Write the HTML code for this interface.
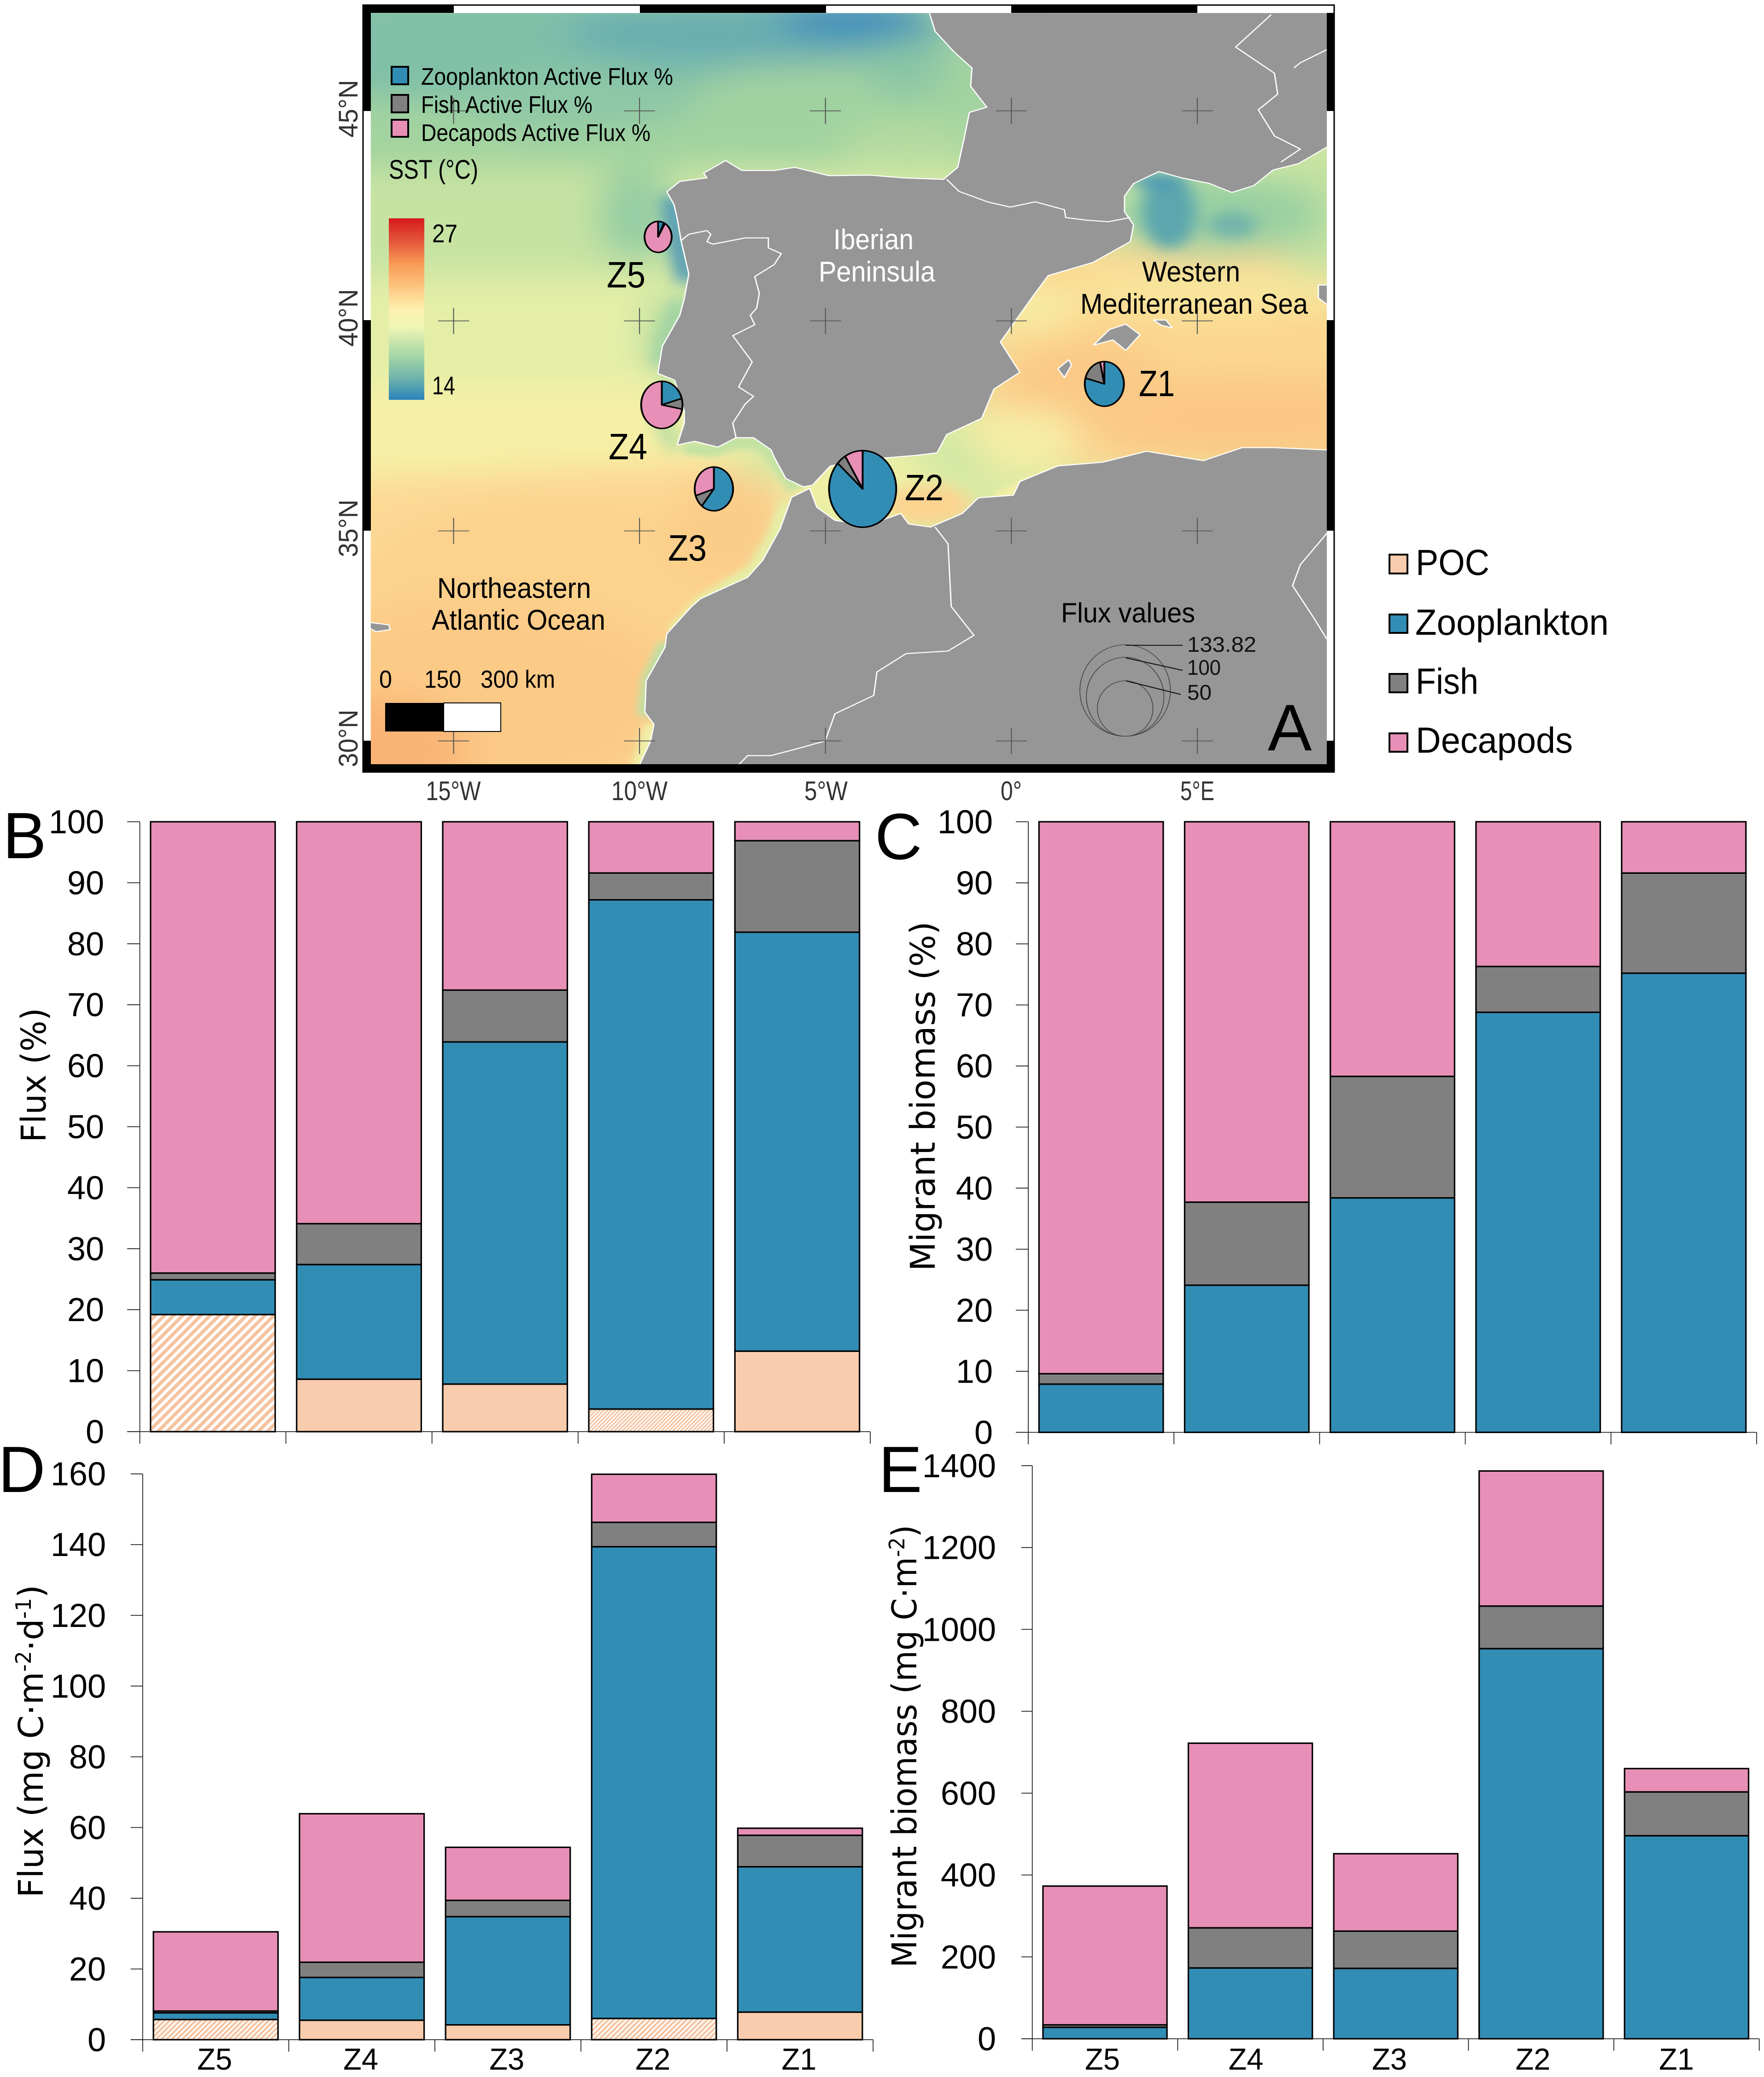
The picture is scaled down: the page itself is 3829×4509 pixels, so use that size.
<!DOCTYPE html>
<html lang="en">
<head>
<meta charset="utf-8">
<title>Active flux and migrant biomass, Iberian Peninsula</title>
<style>
html,body{margin:0;padding:0;background:#fff;}
svg{display:block;font-family:"Liberation Sans",sans-serif;}
.ylab{font-family:"DejaVu Sans",sans-serif;fill:#000;}
</style>
</head>
<body>
<svg id="figure" xmlns="http://www.w3.org/2000/svg" width="3829" height="4509" viewBox="0 0 3829 4509">
<defs>
<clipPath id="mapClip"><rect x="32" y="25" width="1479" height="1437"/></clipPath>
<filter id="b30" x="-30%" y="-30%" width="160%" height="160%"><feGaussianBlur stdDeviation="30"/></filter>
<filter id="b14" x="-30%" y="-30%" width="160%" height="160%"><feGaussianBlur stdDeviation="13"/></filter>
<filter id="b6" x="-30%" y="-30%" width="160%" height="160%"><feGaussianBlur stdDeviation="6"/></filter>
<linearGradient id="sstGrad" x1="0" y1="0" x2="0" y2="1">
<stop offset="0" stop-color="#d7191c"/><stop offset=".12" stop-color="#e2533a"/><stop offset=".25" stop-color="#f99a55"/><stop offset=".38" stop-color="#fdc680"/><stop offset=".5" stop-color="#fdf0b0"/><stop offset=".6" stop-color="#eef5b5"/><stop offset=".75" stop-color="#a9d9a6"/><stop offset=".88" stop-color="#6fb3ab"/><stop offset="1" stop-color="#2b83ba"/>
</linearGradient>
<pattern id="hatchWide" width="14" height="14" patternUnits="userSpaceOnUse" patternTransform="rotate(-45)"><rect width="14" height="14" fill="#fff"/><rect width="14" height="7.5" fill="#f6c3a0"/></pattern>
<pattern id="hatchFine" width="6" height="6" patternUnits="userSpaceOnUse" patternTransform="rotate(-45)"><rect width="6" height="6" fill="#fff"/><rect width="6" height="3.2" fill="#f6c3a0"/></pattern>
<pattern id="hatchMid" width="8" height="8" patternUnits="userSpaceOnUse" patternTransform="rotate(-45)"><rect width="8" height="8" fill="#fff"/><rect width="8" height="4.4" fill="#f6c3a0"/></pattern>
</defs>

<g id="map-panel">
<g id="mapScaled" transform="translate(760 0) scale(1.40306 1.13520)">
<g clip-path="url(#mapClip)">
<g>
<rect x="0" y="0" width="1568" height="1568" fill="#d8eaa5"/>
<g filter="url(#b30)">
<rect x="-100" y="-50" width="1150" height="370" fill="#a2d3a0"/>
<rect x="-100" y="320" width="640" height="220" fill="#c6e3a2"/>
<rect x="-100" y="530" width="620" height="230" fill="#e4eea7"/>
<rect x="-100" y="740" width="700" height="190" fill="#f6f0a6"/>
<polygon points="-100,920 560,880 700,960 640,1100 500,1250 460,1600 -100,1600" fill="#fcd994"/>
<ellipse cx="330" cy="1120" rx="320" ry="170" fill="#fcd28d"/>
<ellipse cx="190" cy="1340" rx="340" ry="190" fill="#fcca87"/>
<ellipse cx="50" cy="1430" rx="130" ry="100" fill="#f9b474"/>
<ellipse cx="590" cy="1000" rx="90" ry="100" fill="#fccc89"/>
<ellipse cx="220" cy="90" rx="420" ry="105" fill="#80bfa8"/>
<ellipse cx="630" cy="60" rx="300" ry="65" fill="#6aaeb0"/>
<ellipse cx="780" cy="35" rx="120" ry="42" fill="#3f8fbb"/>
<ellipse cx="350" cy="195" rx="190" ry="55" fill="#8ec8a6"/>
<ellipse cx="700" cy="190" rx="150" ry="55" fill="#a0d2a1"/>
<ellipse cx="860" cy="130" rx="60" ry="55" fill="#88c5a5"/>
<ellipse cx="860" cy="280" rx="100" ry="50" fill="#b6dba0"/>
<ellipse cx="440" cy="410" rx="55" ry="90" fill="#93cca3"/>
<ellipse cx="490" cy="640" rx="30" ry="80" fill="#aad8a0"/>
<polygon points="1000,480 1530,470 1600,900 950,900 990,650" fill="#fcd68f"/>
<ellipse cx="1380" cy="800" rx="260" ry="80" fill="#fbc785"/>
<ellipse cx="1140" cy="750" rx="130" ry="100" fill="#fbc987"/>
<ellipse cx="1330" cy="560" rx="220" ry="45" fill="#f8e69c"/>
<ellipse cx="1060" cy="590" rx="60" ry="50" fill="#f7eba2"/>
<ellipse cx="1040" cy="840" rx="90" ry="60" fill="#f6eea6"/>
<ellipse cx="920" cy="880" rx="70" ry="40" fill="#d0e7a4"/>
<ellipse cx="790" cy="930" rx="120" ry="70" fill="#f0f0a6"/>
<ellipse cx="1500" cy="400" rx="90" ry="130" fill="#c4e2a1"/>
<ellipse cx="1340" cy="410" rx="170" ry="80" fill="#9ad0a2"/>
</g>
<g filter="url(#b14)">
<ellipse cx="895" cy="965" rx="65" ry="38" fill="#fcd490"/>
<ellipse cx="1267" cy="405" rx="42" ry="70" fill="#5ca6ae"/>
<ellipse cx="1365" cy="430" rx="38" ry="25" fill="#72b4aa"/>
<ellipse cx="1250" cy="345" rx="45" ry="14" fill="#4a98b4"/>
<polyline points="497,375 505,450 522,540" fill="none" stroke="#4a94b8" stroke-width="30"/>
<polyline points="500,720 480,800 505,860" fill="none" stroke="#b9dea2" stroke-width="28"/>
<polyline points="512,572 490,650 478,700" fill="none" stroke="#98d0a3" stroke-width="26"/>
</g>
<g filter="url(#b6)">
<polyline points="515,855 560,862 600,845 640,848 660,880 690,935" fill="none" stroke="#c3e2a2" stroke-width="26"/>
<polyline points="676,960 655,1030 625,1090 545,1150 500,1210" fill="none" stroke="#e6eea6" stroke-width="24"/>
<polyline points="490,1230 462,1302 456,1370" fill="none" stroke="#bfdfa2" stroke-width="24"/>
<polyline points="470,1385 450,1470" fill="none" stroke="#f0f0a8" stroke-width="30"/>
<polyline points="1000,955 1040,930 1100,900" fill="none" stroke="#f5eea6" stroke-width="22"/>
</g>
</g>
<g fill="#969696" stroke="#fff" stroke-width="2" stroke-linejoin="round">
<path d="M895,20 L905,60 L935,100 L962,130 L960,165 L985,205 L958,215 L950,264 L940,320 L918,343 L854,340 L805,335 L741,336 L688,320 L656,326 L606,326 L581,307 L547,331 L552,340 L510,347 L490,367 L501,391 L506,418 L512,460 L524,524 L517,571 L510,603 L483,662 L476,714 L502,727 L517,786 L517,809 L506,851 L533,844 L569,855 L597,837 L624,837 L651,860 L656,874 L674,915 L701,931 L715,928 L743,891 L790,880 L825,876 L874,871 L908,866 L923,831 L977,800 L996,744 L1036,712 L1006,654 L1056,567 L1080,527 L1149,502 L1207,462 L1212,430 L1198,405 L1198,375 L1212,351 L1251,328 L1286,340 L1330,351 L1364,368 L1398,355 L1428,325 L1467,313 L1520,275 L1520,20 Z"/>
<path d="M683,951 L665,1012 L638,1072 L615,1104 L542,1145 L529,1159 L490,1212 L487,1238 L458,1302 L456,1362 L470,1385 L465,1417 L445,1470 L1520,1470 L1520,861 L1429,856 L1380,856 L1320,881 L1232,863 L1164,884 L1095,891 L1036,921 L1026,947 L972,952 L947,982 L898,1008 L864,1002 L852,982 L800,1005 L750,995 L722,970 L711,934 Z"/>
<path d="M1150,660 L1175,630 L1200,620 L1222,640 L1200,670 L1180,650 Z"/>
<path d="M1243,612 L1262,612 L1272,627 L1255,622 Z"/>
<path d="M1095,705 L1112,688 L1116,698 L1105,722 Z"/>
<path d="M1498,545 L1520,545 L1520,590 L1498,570 Z"/>
<path d="M28,1190 L60,1195 L62,1204 L40,1208 L28,1200 Z"/>
</g>
<g fill="none" stroke="#fff" stroke-width="2">
<polyline points="923,343 942,366 986,386 1021,396 1060,386 1105,401 1107,416 1139,421 1173,424 1207,416"/>
<polyline points="512,460 524,448 552,441 558,448 552,462 561,467 611,455 647,455 647,474 667,485 656,506 626,529 633,561 629,589 619,603 626,621 592,642 622,692 601,740 624,758 611,773 592,809 597,837"/>
<polyline points="1425,28 1370,90 1430,140 1435,180 1405,210 1430,260 1470,285 1440,310"/>
<polyline points="1511,95 1470,120 1460,130"/>
<polyline points="905,1008 925,1040 930,1160 965,1215 925,1245 860,1250 815,1285 810,1330 750,1365 735,1417 688,1433 651,1445 615,1445 599,1465"/>
<polyline points="1511,1020 1470,1080 1458,1120 1490,1180 1511,1222"/>
</g>
<g id="graticule" stroke="#555" stroke-width="1.5"></g>
</g>
<g id="pies"></g>
<g fill="none" stroke="#444" stroke-width="1.2">
<ellipse cx="1199" cy="1320.5" rx="70" ry="87.5"/>
<ellipse cx="1199" cy="1332.5" rx="60" ry="75.5"/>
<ellipse cx="1199" cy="1355" rx="43" ry="53"/>
<path d="M1200,1234 H1288 M1200,1258 L1288,1282 M1200,1302 L1285,1328" stroke="#111" stroke-width="1.8"/>
</g>
</g>

<g>
<rect x="788" y="11" width="2108" height="1665" fill="none" stroke="#000" stroke-width="3"/>
<rect x="788" y="11" width="197" height="17"/><rect x="1389" y="11" width="404" height="17"/><rect x="2195" y="11" width="404" height="17"/>
<rect x="788" y="1659" width="2108" height="17"/>
<rect x="788" y="28" width="17" height="213"/><rect x="788" y="695" width="17" height="457"/><rect x="788" y="1608" width="17" height="68"/>
<rect x="2880" y="28" width="16" height="213"/><rect x="2880" y="695" width="16" height="457"/><rect x="2880" y="1608" width="16" height="68"/>
</g>

<g fill="#333" font-size="58">
<text x="984" y="1737" text-anchor="middle" textLength="119" lengthAdjust="spacingAndGlyphs">15°W</text>
<text x="1388" y="1737" text-anchor="middle" textLength="122" lengthAdjust="spacingAndGlyphs">10°W</text>
<text x="1793" y="1737" text-anchor="middle" textLength="94" lengthAdjust="spacingAndGlyphs">5°W</text>
<text x="2195" y="1737" text-anchor="middle" textLength="46" lengthAdjust="spacingAndGlyphs">0°</text>
<text x="2599" y="1737" text-anchor="middle" textLength="74" lengthAdjust="spacingAndGlyphs">5°E</text>
<text transform="translate(776 236) rotate(-90)" text-anchor="middle" textLength="125" lengthAdjust="spacingAndGlyphs">45°N</text>
<text transform="translate(776 690) rotate(-90)" text-anchor="middle" textLength="125" lengthAdjust="spacingAndGlyphs">40°N</text>
<text transform="translate(776 1147) rotate(-90)" text-anchor="middle" textLength="125" lengthAdjust="spacingAndGlyphs">35°N</text>
<text transform="translate(776 1603) rotate(-90)" text-anchor="middle" textLength="125" lengthAdjust="spacingAndGlyphs">30°N</text>
</g>

<g font-size="52">
<rect x="850" y="145" width="36" height="38" fill="#328db5" stroke="#000" stroke-width="4"/>
<rect x="850" y="206" width="36" height="38" fill="#808080" stroke="#000" stroke-width="4"/>
<rect x="850" y="260" width="36" height="37" fill="#e78fb6" stroke="#000" stroke-width="4"/>
<text x="914" y="184" textLength="547" lengthAdjust="spacingAndGlyphs">Zooplankton Active Flux %</text>
<text x="914" y="245" textLength="372" lengthAdjust="spacingAndGlyphs">Fish Active Flux %</text>
<text x="914" y="306" textLength="498" lengthAdjust="spacingAndGlyphs">Decapods Active Flux %</text>
</g>

<g>
<text x="844" y="388" font-size="58" textLength="194" lengthAdjust="spacingAndGlyphs">SST (°C)</text>
<rect x="844" y="474" width="77" height="394" fill="url(#sstGrad)"/>
<text x="938" y="526" font-size="56" textLength="55" lengthAdjust="spacingAndGlyphs">27</text>
<text x="938" y="856" font-size="56" textLength="50" lengthAdjust="spacingAndGlyphs">14</text>
</g>

<g>
<g font-size="80">
<text x="1317" y="624" textLength="84" lengthAdjust="spacingAndGlyphs">Z5</text>
<text x="1321" y="997" textLength="84" lengthAdjust="spacingAndGlyphs">Z4</text>
<text x="1450" y="1217" textLength="84" lengthAdjust="spacingAndGlyphs">Z3</text>
<text x="1964" y="1086" textLength="84" lengthAdjust="spacingAndGlyphs">Z2</text>
<text x="2472" y="860" textLength="78" lengthAdjust="spacingAndGlyphs">Z1</text>
</g>
<g font-size="62">
<text x="1809" y="541" fill="#fff" textLength="174" lengthAdjust="spacingAndGlyphs">Iberian</text>
<text x="1777" y="611" fill="#fff" textLength="253" lengthAdjust="spacingAndGlyphs">Peninsula</text>
<text x="2479" y="611" textLength="213" lengthAdjust="spacingAndGlyphs">Western</text>
<text x="2345" y="681" textLength="494" lengthAdjust="spacingAndGlyphs">Mediterranean Sea</text>
<text x="949" y="1298" textLength="334" lengthAdjust="spacingAndGlyphs">Northeastern</text>
<text x="937" y="1367" textLength="377" lengthAdjust="spacingAndGlyphs">Atlantic Ocean</text>
</g>
<g font-size="54">
<text x="823" y="1493" textLength="28" lengthAdjust="spacingAndGlyphs">0</text>
<text x="921" y="1493" textLength="80" lengthAdjust="spacingAndGlyphs">150</text>
<text x="1043" y="1493" textLength="162" lengthAdjust="spacingAndGlyphs">300 km</text>
<rect x="836" y="1526" width="127" height="62" fill="#000"/>
<rect x="963" y="1526" width="124" height="62" fill="#fff" stroke="#000" stroke-width="2"/>
</g>
<text x="2303" y="1351" font-size="60" textLength="291" lengthAdjust="spacingAndGlyphs">Flux values</text>
<g font-size="46" fill="#111">
<text x="2577" y="1415" textLength="150" lengthAdjust="spacingAndGlyphs">133.82</text>
<text x="2577" y="1465" textLength="73" lengthAdjust="spacingAndGlyphs">100</text>
<text x="2577" y="1519" textLength="53" lengthAdjust="spacingAndGlyphs">50</text>
</g>
<text x="2752" y="1629" font-size="143">A</text>
</g>
</g>

<g font-size="79">
<rect x="3016" y="1204" width="39" height="41" fill="#f8ccac" stroke="#000" stroke-width="4"/>
<rect x="3016" y="1334" width="39" height="40" fill="#328db5" stroke="#000" stroke-width="4"/>
<rect x="3016" y="1463" width="39" height="40" fill="#808080" stroke="#000" stroke-width="4"/>
<rect x="3016" y="1592" width="39" height="40" fill="#e78fb6" stroke="#000" stroke-width="4"/>
<text x="3073" y="1248" textLength="160" lengthAdjust="spacingAndGlyphs">POC</text>
<text x="3072" y="1378" textLength="420" lengthAdjust="spacingAndGlyphs">Zooplankton</text>
<text x="3073" y="1506" textLength="136" lengthAdjust="spacingAndGlyphs">Fish</text>
<text x="3073" y="1634" textLength="341" lengthAdjust="spacingAndGlyphs">Decapods</text>
</g>

<g id="charts"></g>

<g font-size="142">
<text x="6" y="1863">B</text>
<text x="1899" y="1865">C</text>
<text x="-4" y="3239">D</text>
<text x="1907" y="3239">E</text>
</g>

<g>
<text class="ylab" transform="translate(99 2334) rotate(-90)" text-anchor="middle" font-size="74" textLength="292" lengthAdjust="spacingAndGlyphs">Flux (%)</text>
<text class="ylab" transform="translate(2029 2380) rotate(-90)" text-anchor="middle" font-size="74" textLength="759" lengthAdjust="spacingAndGlyphs">Migrant biomass (%)</text>
<text class="ylab" transform="translate(93 3780) rotate(-90)" text-anchor="middle" font-size="74" textLength="679" lengthAdjust="spacingAndGlyphs">Flux (mg C·m<tspan dy="-26" font-size="46">-2</tspan><tspan dy="26">·d</tspan><tspan dy="-26" font-size="46">-1</tspan><tspan dy="26">)</tspan></text>
<text class="ylab" transform="translate(1989 3791) rotate(-90)" text-anchor="middle" font-size="74" textLength="961" lengthAdjust="spacingAndGlyphs">Migrant biomass (mg C·m<tspan dy="-26" font-size="46">-2</tspan><tspan dy="26">)</tspan></text>
</g>
</svg>

<script>
// Chart data
const zones = ['Z5', 'Z4', 'Z3', 'Z2', 'Z1'];

const fluxPctPoc = [19.2, 8.6, 7.8, 3.7, 13.2];
const fluxPctZoo = [5.7, 18.8, 56.1, 83.5, 68.7];
const fluxPctFish = [1.1, 6.7, 8.5, 4.4, 15.0];
const fluxPctDec = [74.0, 65.9, 27.6, 8.4, 3.1];
const fluxPctTicks = [0, 10, 20, 30, 40, 50, 60, 70, 80, 90, 100];

const biomassPctZoo = [7.9, 24.1, 38.4, 68.8, 75.2];
const biomassPctFish = [1.7, 13.6, 19.9, 7.5, 16.4];
const biomassPctDec = [90.4, 62.3, 41.7, 23.7, 8.4];
const biomassPctTicks = [0, 10, 20, 30, 40, 50, 60, 70, 80, 90, 100];

const fluxAbsPoc = [5.7, 5.5, 4.2, 6.0, 7.8];
const fluxAbsZoo = [1.9, 12.1, 30.6, 133.4, 41.1];
const fluxAbsFish = [0.5, 4.3, 4.6, 6.9, 8.9];
const fluxAbsDec = [22.4, 42.0, 15.0, 13.6, 2.0];
const fluxAbsTicks = [0, 20, 40, 60, 80, 100, 120, 140, 160];

const biomassAbsZoo = [28, 173, 172, 953, 496];
const biomassAbsFish = [6, 98, 91, 104, 107];
const biomassAbsDec = [339, 451, 189, 330, 57];
const biomassAbsTicks = [0, 200, 400, 600, 800, 1000, 1200, 1400];

// Pie data: zone location (degrees), total active flux, and composition %
const pieLon = [-9.5, -9.4, -8.0, -4.0, 2.5];
const pieLat = [42.0, 38.0, 36.0, 36.0, 38.5];
const pieTotal = [25, 58, 50, 153, 52];
const pieZoo = [7.0, 20.6, 60.8, 86.7, 79.2];
const pieFish = [1.4, 7.3, 9.2, 4.6, 17.3];
const pieDec = [91.6, 72.1, 30.0, 8.7, 3.5];

const gratLon = [-15, -10, -5, 0, 5];
const gratLat = [45, 40, 35, 30];

const COLORS = { poc: '#f8ccac', zoo: '#328db5', fish: '#808080', dec: '#e78fb6' };
const NS = 'http://www.w3.org/2000/svg';

function make(tag, attrs, parent) {
  const e = document.createElementNS(NS, tag);
  for (const k in attrs) e.setAttribute(k, attrs[k]);
  parent.appendChild(e);
  return e;
}

// Map axis functions (coordinates of the scaled map group)
function lonX(lon) { return 1023 + lon * 57.53; }
function latY(lat) { return 212 + (45 - lat) * 80.33; }

const grat = document.getElementById('graticule');
gratLon.forEach(function (lon) {
  gratLat.forEach(function (lat) {
    const cross = make('path', { d: 'M' + (lonX(lon) - 24) + ',' + latY(lat) + 'h48M' + lonX(lon) + ',' + (latY(lat) - 25) + 'v50', fill: 'none' }, grat);
    
    
  });
});

function wedge(cx, cy, rx, ry, a0, a1) {
  const x0 = cx + rx * Math.sin(a0), y0 = cy - ry * Math.cos(a0);
  const x1 = cx + rx * Math.sin(a1), y1 = cy - ry * Math.cos(a1);
  const large = (a1 - a0) > Math.PI ? 1 : 0;
  return 'M' + cx + ',' + cy + 'L' + x0 + ',' + y0 + 'A' + rx + ',' + ry + ' 0 ' + large + ' 1 ' + x1 + ',' + y1 + 'Z';
}

const pieLayer = document.getElementById('pies');
zones.forEach(function (zone, i) {
  const rx = 4.2 * Math.sqrt(pieTotal[i]);
  const ry = rx * 1.41;
  const cx = lonX(pieLon[i]);
  const cy = latY(pieLat[i]);
  const parts = [[pieZoo[i], COLORS.zoo], [pieFish[i], COLORS.fish], [pieDec[i], COLORS.dec]];
  const sum = pieZoo[i] + pieFish[i] + pieDec[i];
  let a = 0;
  parts.forEach(function (p) {
    const next = a + p[0] / sum * 2 * Math.PI;
    const slice = make('path', { d: wedge(cx, cy, rx, ry, a, next), fill: p[1], stroke: '#000', 'stroke-width': 2.8, 'stroke-linejoin': 'round' }, pieLayer);
    
    
    a = next;
  });
});

// Bar charts
function drawChart(cfg) {
  const root = document.getElementById('charts');
  const g = make('g', {}, root);
  
  
  const yOf = function (v) { return cfg.y0 - v * (cfg.y0 - cfg.yTop) / cfg.yMax; };
  const band = cfg.band;
  const xOf = function (i) { return cfg.x0 + (i + 0.5) * band; };
  const zoneX = function (i) { return cfg.zoneStart + i * cfg.zoneStep; };
  const barW = band * 0.853;

  make('line', { x1: cfg.x0, x2: cfg.x0, y1: cfg.yTop, y2: cfg.y0, stroke: '#222', 'stroke-width': 1.8 }, g);
  make('line', { x1: cfg.tickLeft, x2: cfg.x0 + 5 * band, y1: cfg.y0, y2: cfg.y0, stroke: '#222', 'stroke-width': 1.8 }, g);
  cfg.ticks.forEach(function (t) {
    make('line', { x1: cfg.tickLeft, x2: cfg.x0, y1: yOf(t), y2: yOf(t), stroke: '#222', 'stroke-width': 1.8 }, g);
    const lab = make('text', { x: cfg.labelRight, y: yOf(t) + 25, 'text-anchor': 'end', 'font-size': 72 }, g);
    
    
    lab.textContent = t;
  });
  for (let i = 0; i <= 5; i++) {
    make('line', { x1: cfg.x0 + i * band, x2: cfg.x0 + i * band, y1: cfg.y0, y2: cfg.y0 + 26, stroke: '#222', 'stroke-width': 1.8 }, g);
  }
  zones.forEach(function (zone, i) {
    let base = 0;
    cfg.series.forEach(function (s) {
      const v = s.values[i];
      const fill = (s.hatch && s.hatch[i]) ? 'url(#' + s.hatch[i] + ')' : s.color;
      const bar = make('rect', { x: xOf(i) - barW / 2, y: yOf(base + v), width: barW, height: yOf(base) - yOf(base + v), fill: fill, stroke: '#000', 'stroke-width': 3.2 }, g);
      
      
      base += v;
    });
    if (cfg.showZones) {
      const z = make('text', { x: zoneX(i), y: 4493, 'text-anchor': 'middle', 'font-size': 66, textLength: 76, lengthAdjust: 'spacingAndGlyphs' }, g);
      
      
      z.textContent = zone;
    }
  });
}

drawChart({
  name: 'flux-percent-chart', x0: 303.5, band: 317.1, y0: 3108, yTop: 1784, yMax: 100, tickLeft: 276, labelRight: 226,
  ticks: fluxPctTicks, showZones: false,
  series: [
    { key: 'poc', values: fluxPctPoc, color: COLORS.poc, hatch: ['hatchWide', null, null, 'hatchFine', null] },
    { key: 'zooplankton', values: fluxPctZoo, color: COLORS.zoo },
    { key: 'fish', values: fluxPctFish, color: COLORS.fish },
    { key: 'decapods', values: fluxPctDec, color: COLORS.dec }
  ]
});
drawChart({
  name: 'biomass-percent-chart', x0: 2232, band: 316.2, y0: 3109.5, yTop: 1784, yMax: 100, tickLeft: 2205, labelRight: 2155,
  ticks: biomassPctTicks, showZones: false,
  series: [
    { key: 'zooplankton', values: biomassPctZoo, color: COLORS.zoo },
    { key: 'fish', values: biomassPctFish, color: COLORS.fish },
    { key: 'decapods', values: biomassPctDec, color: COLORS.dec }
  ]
});
drawChart({
  name: 'flux-absolute-chart', x0: 309.7, band: 317.1, y0: 4428, yTop: 3199.7, yMax: 160, tickLeft: 283.6, labelRight: 230,
  ticks: fluxAbsTicks, showZones: true, zoneStart: 466, zoneStep: 317.1,
  series: [
    { key: 'poc', values: fluxAbsPoc, color: COLORS.poc, hatch: ['hatchMid', null, null, 'hatchMid', null] },
    { key: 'zooplankton', values: fluxAbsZoo, color: COLORS.zoo },
    { key: 'fish', values: fluxAbsFish, color: COLORS.fish },
    { key: 'decapods', values: fluxAbsDec, color: COLORS.dec }
  ]
});
drawChart({
  name: 'biomass-absolute-chart', x0: 2240.7, band: 315.6, y0: 4426, yTop: 3181.8, yMax: 1400, tickLeft: 2217, labelRight: 2162,
  ticks: biomassAbsTicks, showZones: true, zoneStart: 2393, zoneStep: 311.5,
  series: [
    { key: 'zooplankton', values: biomassAbsZoo, color: COLORS.zoo },
    { key: 'fish', values: biomassAbsFish, color: COLORS.fish },
    { key: 'decapods', values: biomassAbsDec, color: COLORS.dec }
  ]
});
</script>
</body>
</html>
